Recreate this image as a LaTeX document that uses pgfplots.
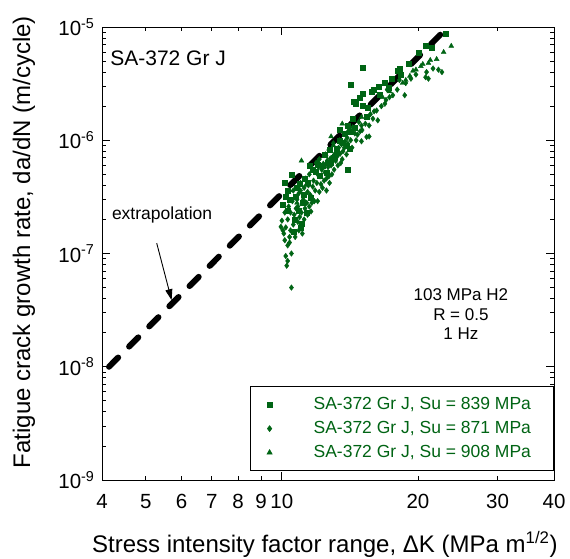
\documentclass[border=0pt]{standalone}
\usepackage{fontspec}
\setmainfont{Liberation Sans}
\usepackage{pgfplots}
\pgfplotsset{compat=1.18}
\usetikzlibrary{arrows.meta}
\definecolor{dg}{RGB}{0,100,20}

\begin{document}
\begin{tikzpicture}
\begin{axis}[
   name=ax,
   scale only axis,
   width=452pt, height=453pt,
   xmode=log, ymode=log,
   xmin=4, xmax=40, ymin=1e-9, ymax=1e-5,
   xtick={10}, xticklabels={10},
   minor xtick={4,5,6,7,8,9,20,30,40},
   extra x ticks={4,5,6,7,8,9,20,30,40},
   extra x tick labels={4,5,6,7,8,9,20,30,40},
   extra x tick style={major tick length=0pt},
   ytick={1e-9,1e-8,1e-7,1e-6,1e-5},
   yticklabels={10\textsuperscript{-9},10\textsuperscript{-8},10\textsuperscript{-7},10\textsuperscript{-6},10\textsuperscript{-5}},
   minor ytick={2e-9,3e-9,4e-9,5e-9,6e-9,7e-9,8e-9,9e-9,
                2e-8,3e-8,4e-8,5e-8,6e-8,7e-8,8e-8,9e-8,
                2e-7,3e-7,4e-7,5e-7,6e-7,7e-7,8e-7,9e-7,
                2e-6,3e-6,4e-6,5e-6,6e-6,7e-6,8e-6,9e-6},
   major tick length=8pt, minor tick length=4pt,
   tick align=inside,
   axis line style={line width=1pt},
   every tick/.style={black, line width=0.8pt},
   ticklabel style={font=\fontsize{20.5}{24}\selectfont},
   xticklabel style={yshift=-11pt},
   yticklabel style={xshift=-4pt},
   xlabel={Stress intensity factor range, ΔK (MPa m\textsuperscript{1/2})},
   ylabel={Fatigue crack growth rate, da/dN (m/cycle)},
   label style={font=\fontsize{24}{28}\selectfont},
   xlabel style={at={(rel axis cs:0.493,-0.161)}, anchor=base},
   ylabel style={at={(rel axis cs:-0.159,0.525)}, anchor=base},
   legend style={at={(rel axis cs:1,0)}, anchor=south east, yshift=9pt,
      draw=black, line width=0.8pt, text=dg,
      font=\fontsize{17.5}{21}\selectfont,
      inner xsep=4pt, inner ysep=8pt, row sep=4pt,
      nodes={inner sep=2pt, text height=13pt, text depth=3pt}},
   legend cell align=left,
   myleg/.style={legend image code/.code={%
      \path[draw=none, fill=none] (0pt,0pt) (57pt,0pt);
      \draw[mark repeat=2,mark phase=2,##1] plot coordinates {(0pt,0pt) (15pt,0pt) (57pt,0pt)};}},
 ]
% Su = 839 MPa
\addplot[only marks, mark=square*, mark size=2.5pt, color=dg, myleg] coordinates {
 (23.0,8.7e-6) (21.5,6.6e-6) (20.8,6.9e-6) (20.1,5.9e-6) (19.1,4.7e-6) (18.2,4.3e-6)
 (18.0,4.1e-6) (18.3,3.8e-6) (17.5,3.5e-6) (16.9,3.2e-6) (16.4,3.0e-6) (16.0,2.8e-6)
 (15.8,2.7e-6) (15.1,2.6e-6) (15.1,4.4e-6) (14.2,3.1e-6) (14.9,2.4e-6) (14.4,2.2e-6)
 (14.6,2.1e-6) (15.1,2.0e-6) (15.4,1.6e-6) (14.35,1.55e-6) (13.4,1.23e-6) (13.75,1.15e-6)
 (13.4,1.0e-6) (13.2,8.5e-7) (14.1,8.5e-7) (13.1,7.1e-7) (14.0,5.5e-7) (13.9,9.0e-7)
 (13.2,7.7e-7) (12.85,6.4e-7) (12.55,5.2e-7) (12.1,4.9e-7) (11.7,5.5e-7) (11.5,6.0e-7)
 (12.45,7.4e-7) (12.0,6.1e-7) (12.75,8.2e-7) (10.15,4.2e-7) (10.5,5.0e-7) (11.6,3.1e-7)
 (11.1,2.8e-7) (10.75,3.2e-7) (11.35,2.3e-7) (11.05,1.85e-7) (10.6,1.55e-7) (10.7,2.0e-7)
 (10.3,2.4e-7) (10.05,2.7e-7) (10.4,3.0e-7) (10.95,4.1e-7) (11.25,4.6e-7)
 (10.3,3.6e-7) (10.8,3.8e-7) (11.4,4.2e-7) (11.9,5.3e-7) (12.3,6.0e-7) (12.6,6.3e-7)
 (13.0,7.0e-7) (13.6,9.6e-7) (14.2,1.2e-6) (14.5,1.3e-6) (14.0,1.35e-6) (15.5,1.95e-6)
 (16.5,2.5e-6) (17.2,2.9e-6) (10.2,3.2e-7) (10.9,2.4e-7) (11.2,3.3e-7) (11.0,1.7e-7)
};
\addlegendentry{\makebox[234pt][l]{SA-372 Gr J, Su = 839 MPa}}
% Su = 871 MPa
\addplot[only marks, mark=diamond*, mark size=2.8pt, color=dg, myleg] coordinates {
 (22.6,4.0e-6) (22.2,4.2e-6) (21.6,4.3e-6) (20.9,4.0e-6) (20.8,3.6e-6) (21.1,3.5e-6)
 (19.8,3.8e-6) (19.3,3.5e-6) (18.8,3.2e-6) (18.2,3.4e-6) (18.0,2.8e-6) (18.7,2.5e-6)
 (17.1,2.8e-6) (17.0,2.27e-6) (17.6,2.5e-6) (16.6,2.0e-6) (16.2,1.83e-6) (16.3,1.5e-6)
 (15.7,1.7e-6) (15.6,1.35e-6) (15.6,1.08e-6) (15.0,1.35e-6) (15.05,1.23e-6) (14.7,1.12e-6)
 (15.4,1.07e-6) (15.0,9.8e-7) (14.6,1.0e-6) (14.1,1.2e-6) (14.3,8.6e-7) (14.35,1.3e-6)
 (14.8,1.45e-6) (13.9,7.5e-7) (13.95,1.05e-6) (13.6,6.8e-7) (13.65,8.0e-7) (13.55,9.2e-7)
 (13.4,1.0e-6) (13.3,6.0e-7) (13.25,7.2e-7) (13.35,8.6e-7) (13.0,9.4e-7) (13.05,5.5e-7)
 (12.95,6.5e-7) (13.1,7.6e-7) (12.75,4.2e-7) (12.7,4.8e-7) (12.65,5.8e-7) (12.8,6.9e-7)
 (12.7,8.2e-7) (12.55,3.6e-7) (12.4,4.4e-7) (12.45,5.2e-7) (12.35,6.2e-7) (12.4,7.4e-7)
 (12.2,4.1e-7) (12.1,3.5e-7) (12.15,4.8e-7) (12.05,5.8e-7) (12.1,6.8e-7) (12.0,2.9e-7)
 (11.8,2.9e-7) (11.85,3.6e-7) (11.75,4.4e-7) (11.8,5.4e-7) (11.9,6.3e-7) (11.6,2.35e-7)
 (11.5,2.6e-7) (11.55,3.3e-7) (11.45,4.0e-7) (11.5,5.0e-7) (11.2,2.0e-7) (11.25,2.5e-7)
 (11.15,3.0e-7) (11.2,3.8e-7) (11.3,4.6e-7) (11.1,1.74e-7) (10.9,1.6e-7) (10.95,2.1e-7)
 (10.85,2.6e-7) (10.9,3.4e-7) (11.0,4.2e-7) (10.6,1.8e-7) (10.65,2.2e-7) (10.55,2.9e-7)
 (10.6,3.6e-7) (10.4,1.4e-7) (10.3,2.0e-7) (10.35,2.6e-7) (10.25,3.3e-7) (10.3,1.18e-7)
 (10.2,1.7e-7) (10.15,1.31e-7) (9.95,1.72e-7) (10.0,1.95e-7) (10.1,1.5e-7) (10.5,1.0e-7)
 (10.2,9.5e-8) (10.3,8.6e-8) (10.25,7.8e-8) (10.5,5.0e-8)
 (10.45,2.3e-7) (10.75,2.5e-7) (10.8,3.0e-7) (11.05,2.3e-7) (11.0,3.6e-7) (11.35,2.8e-7)
 (11.4,3.5e-7) (11.65,2.8e-7) (11.7,3.9e-7) (11.95,4.2e-7) (12.0,5.0e-7) (12.25,5.5e-7)
 (12.3,3.8e-7) (12.55,4.6e-7) (12.6,6.6e-7) (12.9,5.0e-7) (12.85,6.0e-7) (13.15,6.6e-7)
 (13.2,8.0e-7) (13.45,7.6e-7) (13.5,6.3e-7) (13.75,8.6e-7) (13.8,9.8e-7) (14.0,9.3e-7)
 (14.2,1.0e-6) (14.5,1.15e-6) (14.9,1.2e-6) (15.3,1.4e-6) (15.9,1.55e-6) (16.0,1.8e-6)
 (16.9,2.1e-6) (17.3,2.4e-6) (10.7,1.4e-7) (10.45,1.6e-7) (10.15,2.3e-7) (10.05,1.6e-7)
 (10.4,1.25e-7) (11.1,1.5e-7) (10.85,1.9e-7) (11.4,2.2e-7)
};
\addlegendentry{\makebox[234pt][l]{SA-372 Gr J, Su = 871 MPa}}
% Su = 908 MPa
\addplot[only marks, mark=triangle*, mark size=2.8pt, color=dg, myleg] coordinates {
 (23.7,6.8e-6) (22.8,6.0e-6) (22.0,5.2e-6) (21.3,5.1e-6) (21.1,4.8e-6) (20.5,4.7e-6)
 (20.3,4.5e-6) (19.8,4.2e-6) (19.5,4.1e-6) (19.2,3.7e-6) (18.8,3.4e-6) (18.5,3.2e-6)
 (17.3,2.7e-6) (16.7,2.4e-6) (15.0,1.6e-6) (14.0,1.2e-6) (13.6,1.4e-6) (13.0,9.0e-7)
 (12.85,1.08e-6) (12.5,7.5e-7) (12.0,6.5e-7) (11.3,4.0e-7) (11.05,6.6e-7) (11.6,3.1e-7)
 (10.8,2.8e-7) (10.4,3.6e-7)
};
\addlegendentry{\makebox[234pt][l]{SA-372 Gr J, Su = 908 MPa}}
% extrapolated power-law line
\addplot[black, line width=6pt, line cap=round, dash pattern=on 13pt off 15.5pt, forget plot]
  coordinates {(4.145,1.0e-8) (22.7,9.0e-6)};

\node[anchor=west, inner sep=0pt, font=\fontsize{21}{25}\selectfont] at (rel axis cs:0.018,0.931) {SA-372 Gr J};
\node[font=\fontsize{17.5}{21}\selectfont] at (rel axis cs:0.133,0.585) {extrapolation};
\draw[-{Triangle[length=11pt,width=7pt]}, line width=0.9pt] (rel axis cs:0.121,0.523) -- (rel axis cs:0.154,0.397);
\node[align=center, font=\fontsize{17}{19.5}\selectfont] at (rel axis cs:0.794,0.366) {103 MPa H2\\R = 0.5\\1 Hz};
\end{axis}
\pgfresetboundingbox
\path ([xshift=-102pt,yshift=-79pt]ax.south west) rectangle ([xshift=16pt,yshift=27pt]ax.north east);
\end{tikzpicture}
\end{document}
